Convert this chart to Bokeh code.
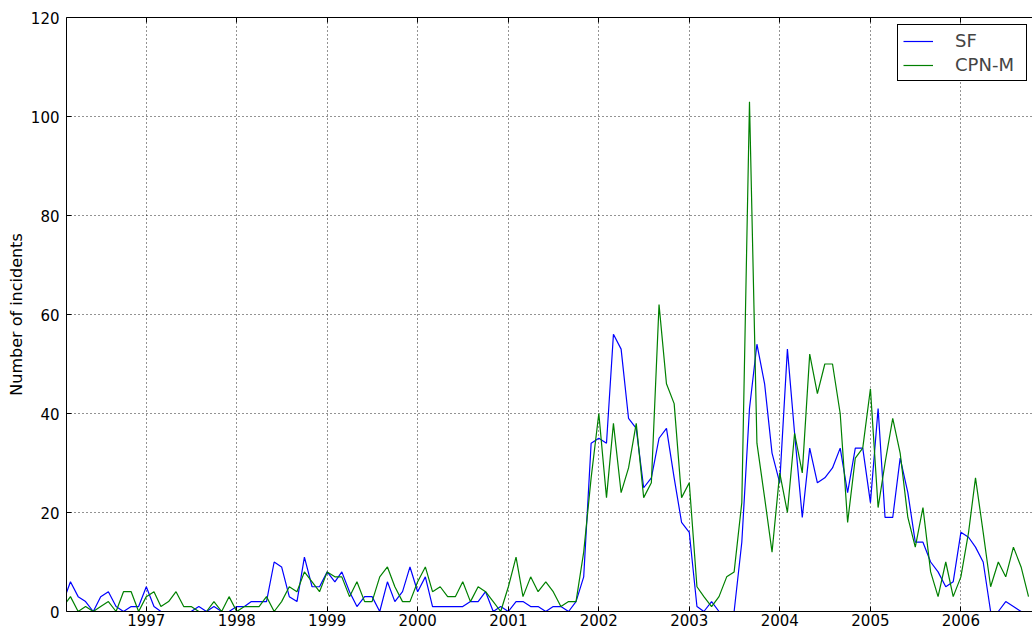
import pandas as pd
from bokeh.plotting import figure
from bokeh.models import (ColumnDataSource, FixedTicker, DatetimeTickFormatter, DatetimeAxis,
                          Range1d, Legend, LegendItem, CustomJSTickFormatter)
from bokeh.embed import file_html
from bokeh.resources import INLINE

# ---------------- data (monthly counts, Feb 1996 - Oct 2006) ----------------
start_month = "1996-02-01"
end_month = "2006-10-01"

sf = [
    2, 6, 3, 2, 0, 3, 4, 1, 0, 1, 1,                 # 1996 Feb-Dec
    5, 1, 0, 0, 0, 0, 0, 1, 0, 1, 0, 0,              # 1997
    1, 1, 2, 2, 2, 10, 9, 3, 2, 11, 5, 5,            # 1998
    8, 6, 8, 4, 1, 3, 3, 0, 6, 2, 4, 9,              # 1999
    4, 7, 1, 1, 1, 1, 1, 2, 2, 4, 0, 1,              # 2000
    0, 2, 2, 1, 1, 0, 1, 1, 0, 2, 7, 34,             # 2001
    35, 34, 56, 53, 39, 37, 25, 27, 35, 37, 27, 18,  # 2002
    16, 1, 0, 2, 0, 0, 0, 14, 41, 54, 46, 32,        # 2003
    26, 53, 36, 19, 33, 26, 27, 29, 33, 24, 33, 33,  # 2004
    22, 41, 19, 19, 31, 24, 14, 14, 10, 8, 5, 6,     # 2005
    16, 15, 13, 10, 0, 0, 2, 1, 0, 0,                # 2006 Jan-Oct
]
cpn_m = [
    1, 3, 0, 1, 0, 1, 2, 0, 4, 4, 0,
    3, 4, 1, 2, 4, 1, 1, 0, 0, 2, 0, 3,
    0, 1, 1, 1, 3, 0, 2, 5, 4, 8, 6, 4,
    8, 7, 7, 3, 6, 2, 2, 7, 9, 5, 2, 2,
    6, 9, 4, 5, 3, 3, 6, 2, 5, 4, 2, 0,
    5, 11, 3, 7, 4, 6, 4, 1, 2, 2, 12, 27,
    40, 23, 38, 24, 29, 38, 23, 26, 62, 46, 42, 23,
    26, 5, 3, 1, 3, 7, 8, 22, 103, 34, 23, 12,
    28, 20, 36, 28, 52, 44, 50, 50, 40, 18, 31, 33,
    45, 21, 30, 39, 32, 19, 13, 21, 8, 3, 10, 3,
    7, 16, 27, 16, 5, 10, 7, 13, 9, 3,
]
year_ticks = list(range(1997, 2007))
y_ticks = [0, 20, 40, 60, 80, 100, 120]
series_names = ["SF", "CPN-M"]

months = pd.date_range(start_month, end_month, freq="MS")
src = ColumnDataSource(dict(date=months, sf=sf, cpn=cpn_m))

x_start = pd.Timestamp("1996-02-14")
x_end = pd.Timestamp("2006-10-17")

FONT = "DejaVu Sans"

p = figure(width=1032, height=629, x_axis_type="datetime",
           x_range=Range1d(x_start, x_end), y_range=Range1d(0, 120),
           output_backend="svg", toolbar_location=None,
           min_border_left=66, min_border_right=0, min_border_top=17, min_border_bottom=18)
p.outline_line_color = None
p.background_fill_color = "white"
p.border_fill_color = "white"

tick_ms = [pd.Timestamp(f"{y}-01-01").value // 10**6 for y in year_ticks]
xticker = FixedTicker(ticks=tick_ms)
yticker = FixedTicker(ticks=y_ticks)
fmt = DatetimeTickFormatter(years="%Y", months="%Y", days="%Y", hours="%Y",
                            hourmin="%Y", minutes="%Y", minsec="%Y", seconds="%Y",
                            milliseconds="%Y", microseconds="%Y")

xa = p.xaxis[0]
xa.ticker = xticker
xa.formatter = fmt
ya = p.yaxis[0]
ya.ticker = yticker
ya.axis_label = "Number of incidents"
ya.axis_label_text_font = FONT
ya.axis_label_text_font_size = "16px"
ya.axis_label_text_font_style = "normal"
ya.axis_label_text_color = "black"
ya.axis_label_standoff = 2
ya.major_label_standoff = 7
xa.major_label_standoff = 2

for ax in (xa, ya):
    ax.major_tick_in = 5
    ax.major_tick_out = 0
    ax.minor_tick_line_color = None
    ax.axis_line_color = "black"
    ax.major_tick_line_color = "black"
    ax.major_label_text_font = FONT
    ax.major_label_text_font_size = "15px"
    ax.major_label_text_color = "black"

top = DatetimeAxis(ticker=xticker, formatter=CustomJSTickFormatter(code="return ''"),
                   major_tick_in=5, major_tick_out=0, minor_tick_line_color=None,
                   major_label_standoff=0, axis_line_color="black")
p.add_layout(top, "above")

p.xgrid.ticker = xticker
p.ygrid.ticker = yticker
for g in (p.xgrid[0], p.ygrid[0]):
    g.grid_line_color = "black"
    g.grid_line_dash = "1 3"
    g.grid_line_alpha = 0.85
    g.grid_line_width = 1

r_sf = p.line("date", "sf", source=src, line_color="#0000ff", line_width=1.2)
r_cpn = p.line("date", "cpn", source=src, line_color="#008000", line_width=1.2)

legend = Legend(items=[LegendItem(label=series_names[0], renderers=[r_sf]),
                       LegendItem(label=series_names[1], renderers=[r_cpn])],
                location=(831, 530))
legend.label_text_font = FONT
legend.label_text_font_size = "18px"
legend.glyph_width = 30
legend.glyph_height = 20
legend.label_height = 20
legend.label_width = 66
legend.label_standoff = 22
legend.padding = 5
legend.spacing = 3
legend.margin = 0
legend.border_line_color = "black"
legend.border_line_width = 1
legend.border_line_alpha = 1
legend.background_fill_alpha = 1
p.add_layout(legend)

open("out.html", "w").write(file_html(p, INLINE))
